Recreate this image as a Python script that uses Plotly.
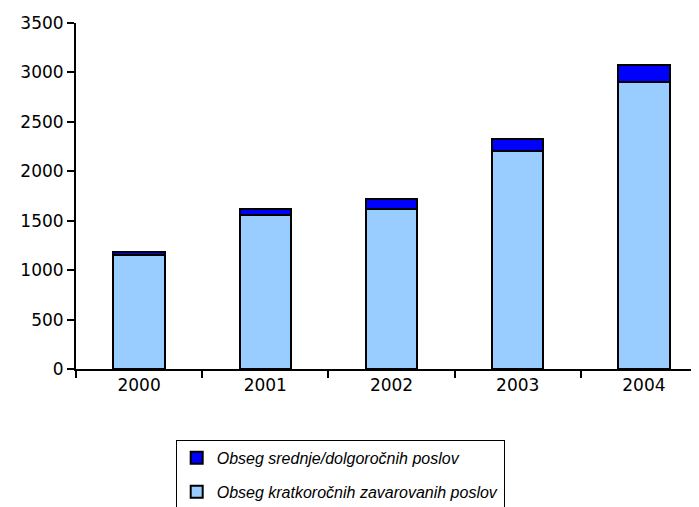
import plotly.graph_objects as go

years = ["2000", "2001", "2002", "2003", "2004"]
short_term = [1150, 1560, 1620, 2210, 2900]
long_term = [35, 60, 100, 120, 180]
names = ["Obseg kratkoročnih zavarovanih poslov", "Obseg srednje/dolgoročnih poslov"]
y_ticks = [0, 500, 1000, 1500, 2000, 2500, 3000, 3500]

fig = go.Figure()
fig.add_bar(x=years, y=short_term, name=names[0], legendgroup="b", legendrank=2,
            marker=dict(color="#99ccff", line=dict(color="black", width=2)))
fig.add_bar(x=years, y=long_term, name=names[1], legendgroup="a", legendrank=1,
            marker=dict(color="#0000ff", line=dict(color="black", width=2)))

tick_font = dict(family="DejaVu Sans, sans-serif", size=17, color="black")

fig.update_layout(
    barmode="stack",
    bargap=0.594,
    width=699, height=507,
    margin=dict(l=68, r=0, t=14.5, b=146, autoexpand=False),
    paper_bgcolor="white", plot_bgcolor="white",
    font=dict(family="Liberation Sans, Arial, sans-serif", size=16, color="black"),
    showlegend=True,
    legend=dict(
        x=0.158, y=-0.205, xanchor="left", yanchor="top",
        traceorder="grouped", tracegroupgap=10,
        bordercolor="black", borderwidth=1,
        font=dict(family="Liberation Sans, Arial, sans-serif", size=16, style="italic"),
        itemwidth=30,
    ),
)
fig.update_xaxes(showline=True, linecolor="black", linewidth=2, ticks="outside",
                 tickson="boundaries", ticklen=7, tickwidth=2, tickcolor="black",
                 showgrid=False, range=[-0.5, 4.5], tickfont=tick_font)
fig.update_yaxes(range=[0, 3500], tickvals=y_ticks, showline=True, linecolor="black",
                 linewidth=2, ticks="outside", ticklen=7, tickwidth=2, tickcolor="black",
                 showgrid=False, zeroline=False, tickfont=tick_font)

fig.write_html("out.html")
